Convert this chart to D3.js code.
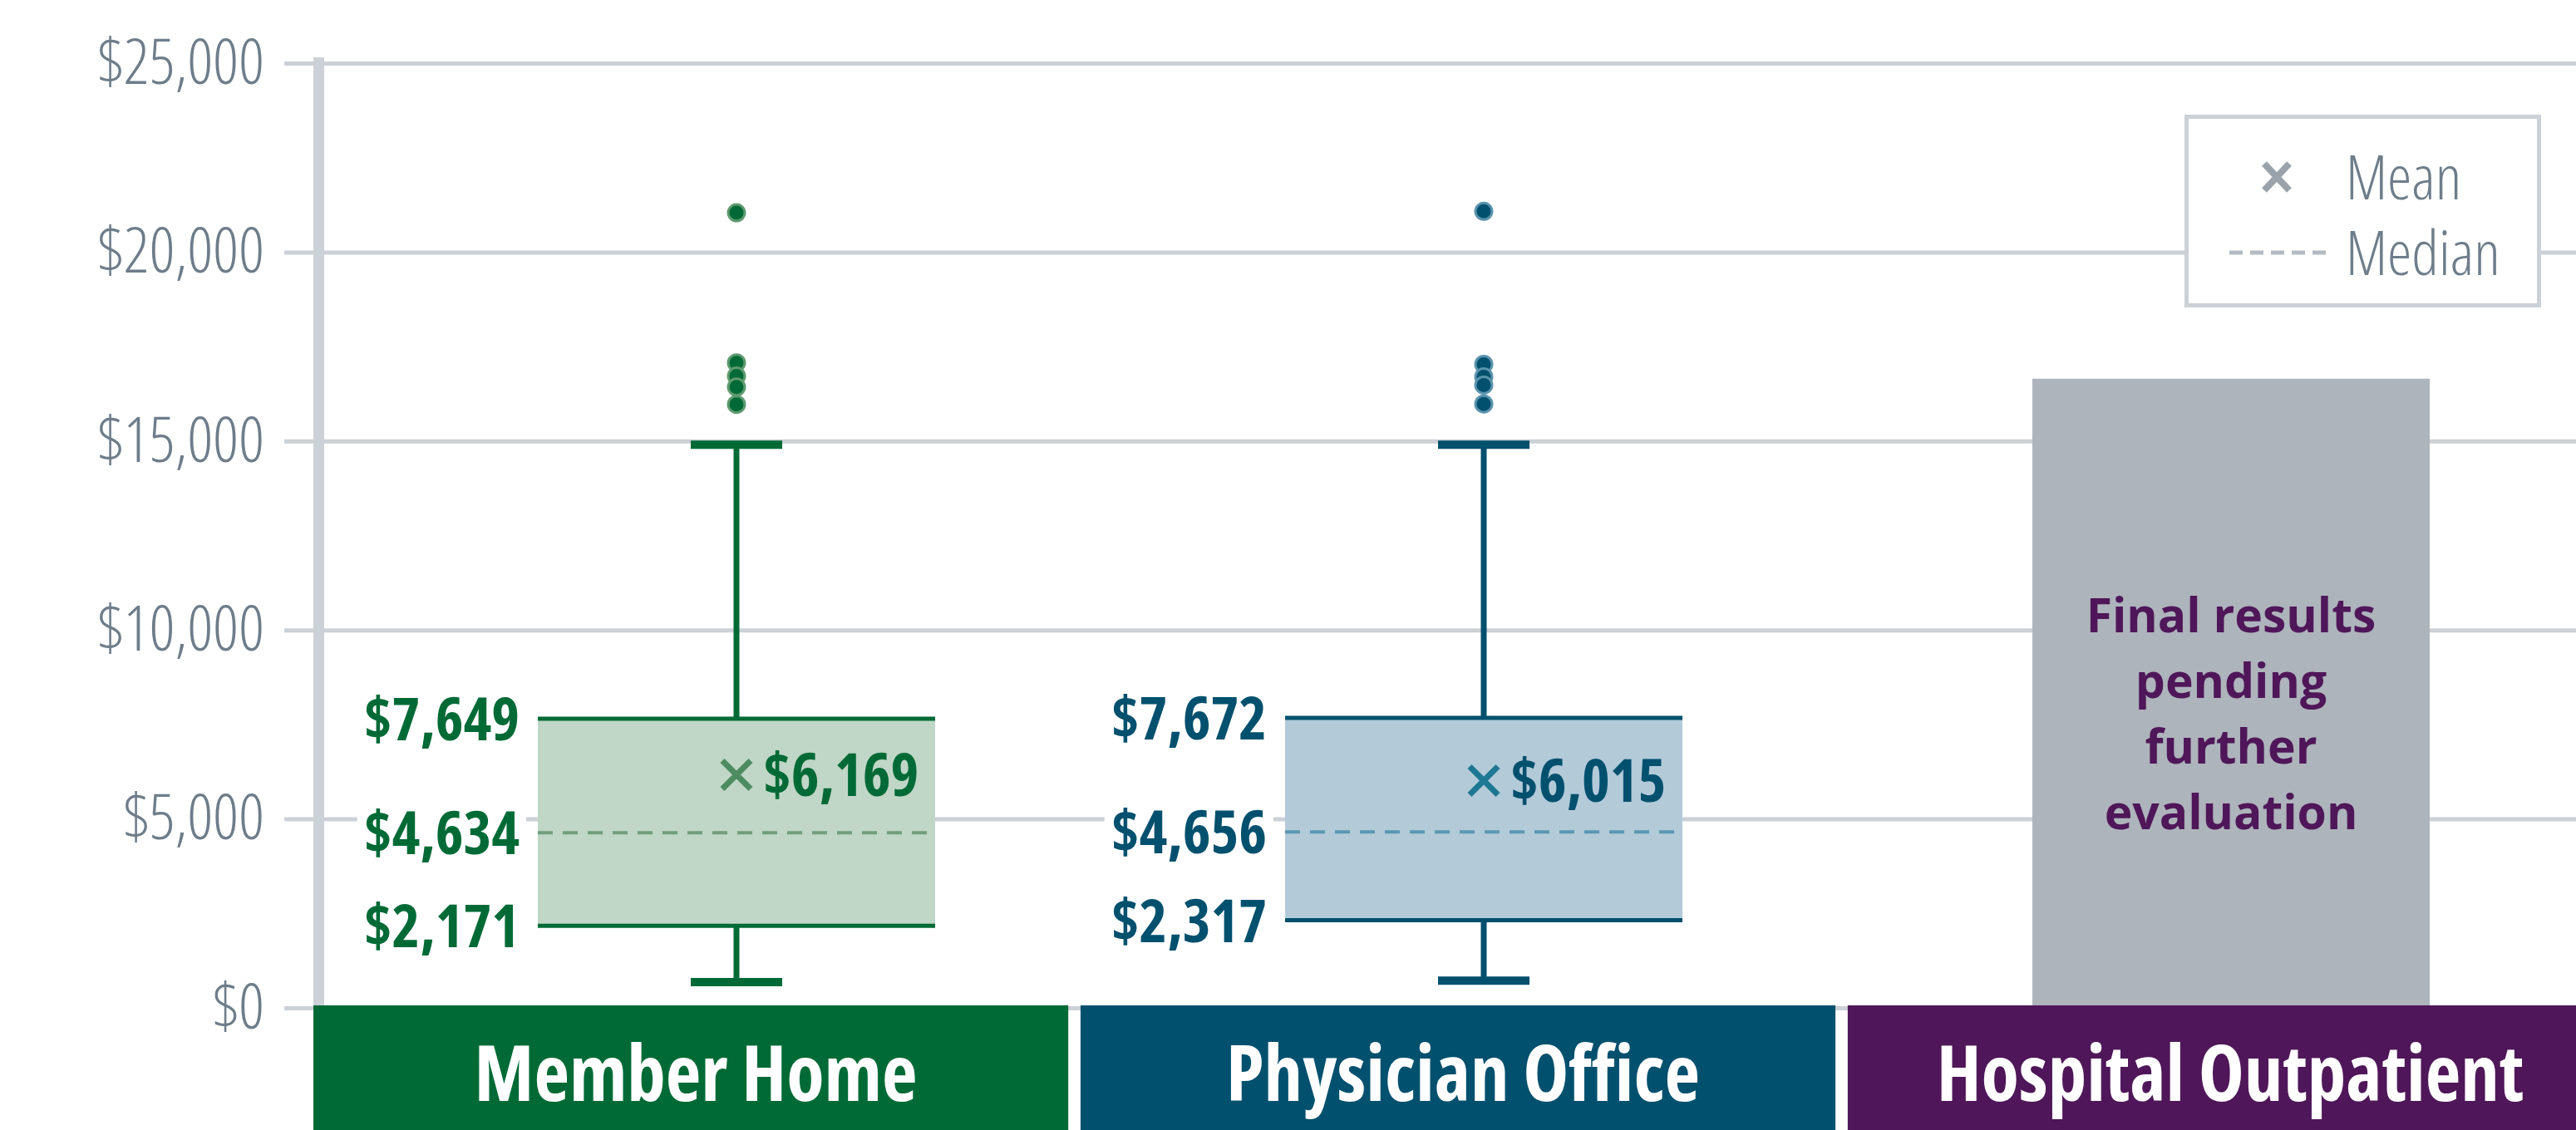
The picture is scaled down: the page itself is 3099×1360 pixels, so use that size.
<!DOCTYPE html>
<html>
<head>
<meta charset="utf-8">
<script src="https://cdn.jsdelivr.net/npm/d3@7"></script>
<style>
  html, body { margin: 0; padding: 0; background: #ffffff; }
  #myDiv { width: 3099px; height: 1360px; overflow: hidden; }
  .cond { font-family: 'Open Sans', 'DejaVu Sans', sans-serif; font-stretch: 75%; }
  .bold { font-family: 'Open Sans', 'DejaVu Sans', sans-serif; font-weight: 700; font-stretch: 87.5%; }
  .note { font-family: 'Open Sans', 'DejaVu Sans', sans-serif; font-weight: 700; }
</style>
</head>
<body>
<div id="myDiv"></div>
<script>
//--------------------------------------------------
// Data
//--------------------------------------------------
var categories = ['Member Home', 'Physician Office', 'Hospital Outpatient'];
var q1Values = [2171, 2317, null];
var medianValues = [4634, 4656, null];
var q3Values = [7649, 7672, null];
var meanValues = [6169, 6015, null];
var whiskerLow = [680, 720, null];
var whiskerHigh = [14900, 14900, null];
var outlierValues = [
  [21040, 17070, 16720, 16430, 15970],
  [21080, 17030, 16700, 16480, 15980],
  []
];
var pendingValues = [null, null, 16650];
var pendingNote = ['Final results', 'pending', 'further', 'evaluation'];
var yTicks = [0, 5000, 10000, 15000, 20000, 25000];
var legendLabels = ['Mean', 'Median'];

//--------------------------------------------------
// Properties
//--------------------------------------------------
var bandColors = ['#006a36', '#00506e', '#4f1759'];
var lineColors = ['#006a36', '#00506e', '#4f1759'];
var boxFills = ['#c0d6c6', '#b3cad9', '#adb4bb'];
var medianColors = ['#6f9f7d', '#5b97b1', '#adb4bb'];
var meanColors = ['#4c8c60', '#1d7893', '#adb4bb'];
var dotStrokes = ['#5f9b70', '#5a93ad', '#adb4bb'];
var gridColor = '#ccd0d7';
var axisTextColor = '#6e7d8a';
var pendingFill = '#adb4bb';
var boxWidth = 478;

var width = 3099, height = 1360;

var svg = d3.select('#myDiv')
  .append('svg')
    .attr('width', width)
    .attr('height', height);

var y = d3.scaleLinear().domain([0, 25000]).range([1213, 76]);
var xBand = d3.scaleBand().domain(categories).range([377, 3131]).paddingInner(0.016);
var x = d3.scalePoint().domain(categories).range([886, 2684]);
var fmt = d3.format('$,');

// gridlines + tick labels
var yAxis = d3.axisLeft(y)
  .tickValues(yTicks)
  .tickFormat(fmt)
  .tickSize(-(width - 342))
  .tickPadding(24);

var axisG = svg.append('g')
  .attr('transform', 'translate(342,0)')
  .call(yAxis);
axisG.select('.domain').remove();
axisG.selectAll('.tick line')
  .attr('stroke', gridColor)
  .attr('stroke-width', 5);
axisG.selectAll('.tick text')
  .attr('class', 'cond')
  .attr('fill', axisTextColor)
  .attr('font-size', 76)
  .attr('font-weight', 300);

// vertical axis bar
svg.append('line')
  .attr('x1', 383.5).attr('x2', 383.5)
  .attr('y1', 69).attr('y2', y(0))
  .attr('stroke', gridColor)
  .attr('stroke-width', 13);

var idx = d3.range(categories.length);
var boxIdx = idx.filter(function(i) { return q1Values[i] != null; });

// whiskers
var whisk = svg.append('g').selectAll('g')
  .data(boxIdx).enter().append('g');
whisk.append('line')
  .attr('x1', function(i) { return x(categories[i]); })
  .attr('x2', function(i) { return x(categories[i]); })
  .attr('y1', function(i) { return y(whiskerLow[i]); })
  .attr('y2', function(i) { return y(whiskerHigh[i]); })
  .attr('stroke', function(i) { return lineColors[i]; })
  .attr('stroke-width', 7);
[whiskerLow, whiskerHigh].forEach(function(arr) {
  whisk.append('line')
    .attr('x1', function(i) { return x(categories[i]) - 55; })
    .attr('x2', function(i) { return x(categories[i]) + 55; })
    .attr('y1', function(i) { return y(arr[i]); })
    .attr('y2', function(i) { return y(arr[i]); })
    .attr('stroke', function(i) { return lineColors[i]; })
    .attr('stroke-width', 10);
});

// boxes
var box = svg.append('g').selectAll('g')
  .data(boxIdx).enter().append('g');
box.append('rect')
  .attr('x', function(i) { return x(categories[i]) - boxWidth / 2; })
  .attr('y', function(i) { return y(q3Values[i]); })
  .attr('width', boxWidth)
  .attr('height', function(i) { return y(q1Values[i]) - y(q3Values[i]); })
  .attr('fill', function(i) { return boxFills[i]; });
[q1Values, q3Values].forEach(function(arr) {
  box.append('line')
    .attr('x1', function(i) { return x(categories[i]) - boxWidth / 2; })
    .attr('x2', function(i) { return x(categories[i]) + boxWidth / 2; })
    .attr('y1', function(i) { return y(arr[i]); })
    .attr('y2', function(i) { return y(arr[i]); })
    .attr('stroke', function(i) { return lineColors[i]; })
    .attr('stroke-width', 5);
});
box.append('line')
  .attr('x1', function(i) { return x(categories[i]) - boxWidth / 2; })
  .attr('x2', function(i) { return x(categories[i]) + boxWidth / 2; })
  .attr('y1', function(i) { return y(medianValues[i]); })
  .attr('y2', function(i) { return y(medianValues[i]); })
  .attr('stroke', function(i) { return medianColors[i]; })
  .attr('stroke-width', 4)
  .attr('stroke-dasharray', '18,12');

// mean marker
box.append('path')
  .attr('transform', function(i) { return 'translate(' + x(categories[i]) + ',' + y(meanValues[i]) + ')'; })
  .attr('d', 'M-17,-17L17,17M-17,17L17,-17')
  .attr('stroke', function(i) { return meanColors[i]; })
  .attr('stroke-width', 7);
box.append('text')
  .attr('class', 'bold')
  .attr('x', function(i) { return x(categories[i]) + 32; })
  .attr('y', function(i) { return y(meanValues[i]); })
  .attr('dy', '0.36em')
  .attr('font-size', 72)
  .attr('fill', function(i) { return lineColors[i]; })
  .text(function(i) { return fmt(meanValues[i]); });

// outliers
boxIdx.forEach(function(i) {
  svg.append('g').selectAll('circle')
    .data(outlierValues[i]).enter().append('circle')
    .attr('cx', x(categories[i]))
    .attr('cy', function(d) { return y(d); })
    .attr('r', 10)
    .attr('fill', lineColors[i])
    .attr('stroke', dotStrokes[i])
    .attr('stroke-width', 3);
});

// quartile labels on the left of each box, with white backing
boxIdx.forEach(function(i) {
  var g = svg.append('g');
  [q3Values[i], medianValues[i], q1Values[i]].forEach(function(v) {
    var t = g.append('text')
      .attr('class', 'bold')
      .attr('x', x(categories[i]) - boxWidth / 2 - 22)
      .attr('y', y(v))
      .attr('dy', '0.36em')
      .attr('text-anchor', 'end')
      .attr('font-size', 72)
      .attr('fill', lineColors[i])
      .text(fmt(v));
    var bb = t.node().getBBox();
    g.insert('rect', 'text')
      .attr('x', bb.x - 8).attr('y', bb.y + 8)
      .attr('width', bb.width + 16).attr('height', bb.height - 16)
      .attr('fill', '#ffffff');
  });
});

// pending bar
var pendIdx = idx.filter(function(i) { return pendingValues[i] != null; });
pendIdx.forEach(function(i) {
  var cx = x(categories[i]);
  svg.append('rect')
    .attr('x', cx - boxWidth / 2)
    .attr('y', y(pendingValues[i]))
    .attr('width', boxWidth)
    .attr('height', y(0) - y(pendingValues[i]))
    .attr('fill', pendingFill);
  var mid = (y(0) + y(pendingValues[i])) / 2 + 25;
  svg.append('text')
    .attr('class', 'note')
    .attr('text-anchor', 'middle')
    .attr('font-size', 57)
    .attr('fill', bandColors[i])
    .selectAll('tspan')
    .data(pendingNote).enter().append('tspan')
      .attr('x', cx)
      .attr('y', function(d, k) { return mid + (k - (pendingNote.length - 1) / 2) * 79; })
      .attr('dy', '0.36em')
      .text(function(d) { return d; });
});

// category bands
var bands = svg.append('g').selectAll('g')
  .data(categories).enter().append('g');
bands.append('rect')
  .attr('x', function(d) { return xBand(d); })
  .attr('y', 1210)
  .attr('width', xBand.bandwidth())
  .attr('height', height - 1210)
  .attr('fill', function(d, i) { return bandColors[i]; });
bands.append('text')
  .attr('class', 'cond')
  .attr('x', function(d) { return xBand(d) + xBand.bandwidth() / 2 + 6; })
  .attr('y', 1292)
  .attr('dy', '0.36em')
  .attr('text-anchor', 'middle')
  .attr('font-size', 93)
  .attr('font-weight', 700)
  .attr('fill', '#ffffff')
  .text(function(d) { return d; });

// legend
var legend = svg.append('g');
legend.append('rect')
  .attr('x', 2630.5).attr('y', 140.5)
  .attr('width', 424).attr('height', 227)
  .attr('fill', '#ffffff')
  .attr('stroke', gridColor)
  .attr('stroke-width', 5);
legend.append('path')
  .attr('transform', 'translate(2739,213)')
  .attr('d', 'M-15,-16L15,16M-15,16L15,-16')
  .attr('stroke', '#9aa3ab')
  .attr('stroke-width', 8);
legend.append('line')
  .attr('x1', 2682).attr('x2', 2798)
  .attr('y1', 304).attr('y2', 304)
  .attr('stroke', '#b3bbc2')
  .attr('stroke-width', 5)
  .attr('stroke-dasharray', '16,9');
legend.selectAll('text.lg')
  .data(legendLabels).enter().append('text')
  .attr('class', 'cond lg')
  .attr('x', 2822)
  .attr('y', function(d, k) { return 213 + k * 91; })
  .attr('dy', '0.36em')
  .attr('font-size', 74)
  .attr('font-weight', 300)
  .attr('fill', axisTextColor)
  .text(function(d) { return d; });
</script>
</body>
</html>
